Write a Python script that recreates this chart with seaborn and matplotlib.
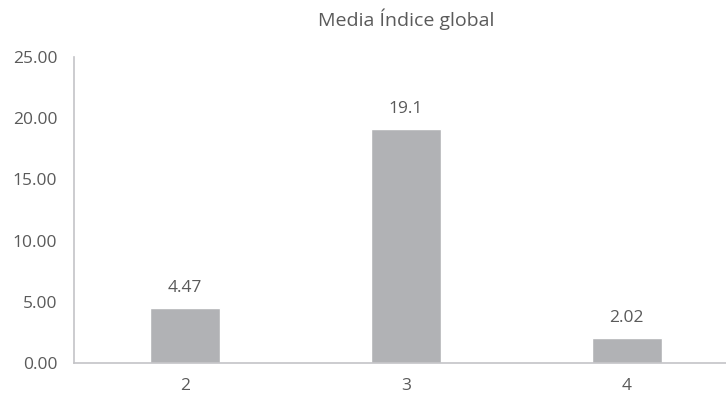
import matplotlib
matplotlib.use("Agg")
import matplotlib.pyplot as plt
import seaborn as sns
import pandas as pd

categories = ["2", "3", "4"]
values = [4.47, 19.1, 2.02]
value_labels = ["4.47", "19.1", "2.02"]
yticks = [0, 5, 10, 15, 20, 25]

sns.set_theme(style="white")
plt.rcParams['font.family'] = ['Open Sans', 'DejaVu Sans']

df = pd.DataFrame({"cat": categories, "val": values})

fig = plt.figure(figsize=(7.26, 3.98), dpi=100)
ax = fig.add_axes([74/726, 1 - 363/398, (726 - 74)/726, (363 - 57)/398])

sns.barplot(data=df, x="cat", y="val", color="#b1b2b5", saturation=1,
            width=0.317, ax=ax)

ax.set_xlim(-0.502, 2.45)
ax.set_ylim(0, 25)
ax.set_yticks(yticks)
ax.set_yticklabels([f"{t:.2f}" for t in yticks])
ax.set_xlabel("")
ax.set_ylabel("")
text_color = "#5a5a5a"
ax.tick_params(axis="both", length=0, labelsize=12.5, labelcolor=text_color)
ax.tick_params(axis="y", pad=12)
ax.tick_params(axis="x", pad=11)

for s in ["top", "right"]:
    ax.spines[s].set_visible(False)
for s in ["left", "bottom"]:
    ax.spines[s].set_color("#c4c4c7")
    ax.spines[s].set_linewidth(1.2)

for patch, lab in zip(ax.patches, value_labels):
    ax.annotate(lab, (patch.get_x() + patch.get_width() / 2, patch.get_height()),
                xytext=(0, 9), textcoords="offset points", ha="center", va="bottom",
                fontsize=12.5, color=text_color)

fig.text(406/726, 1 - 19/398, "Media Índice global", ha="center", va="center",
         fontsize=14, color=text_color)

fig.savefig("out.png", dpi=100)
